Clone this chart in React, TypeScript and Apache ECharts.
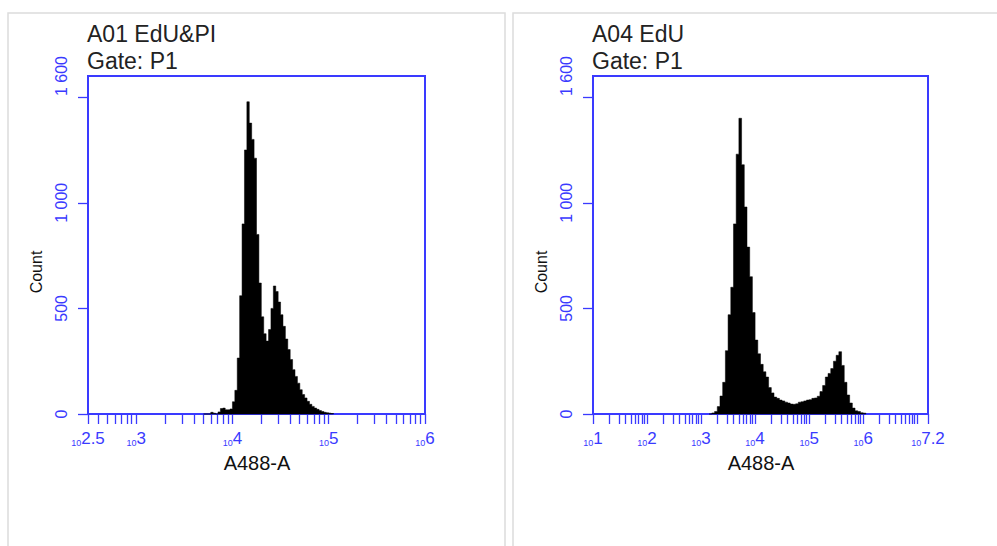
import React, { useEffect, useRef } from 'react';
import * as echarts from 'echarts';

// ---------- data ----------
// Panel 1: A01 EdU&PI  (bin left edges in log10(A488-A), counts)
const p1BinLog = [
  3.700, 3.725, 3.750, 3.775, 3.800, 3.825, 3.850, 3.875, 3.900, 3.925,
  3.950, 3.975, 4.000, 4.025, 4.050, 4.075, 4.100, 4.125, 4.150, 4.175,
  4.200, 4.225, 4.250, 4.275, 4.300, 4.325, 4.350, 4.375, 4.400, 4.425,
  4.450, 4.475, 4.500, 4.525, 4.550, 4.575, 4.600, 4.625, 4.650, 4.675,
  4.700, 4.725, 4.750, 4.775, 4.800, 4.825, 4.850, 4.875, 4.900, 4.925,
  4.950, 4.975, 5.000, 5.025, 5.050,
];
const p1Counts = [
  0, 0, 0, 8, 4, 0, 10, 26, 28, 20,
  20, 24, 58, 112, 265, 560, 900, 1250, 1478, 1377,
  1300, 1211, 850, 620, 460, 380, 345, 400, 500, 606,
  580, 530, 470, 415, 355, 305, 258, 210, 178, 146,
  115, 92, 76, 60, 46, 36, 28, 22, 16, 12,
  8, 6, 4, 2, 0,
];

// Panel 2: A04 EdU
const p2BinLog = [
  3.15, 3.20, 3.25, 3.30, 3.35, 3.40, 3.45, 3.50, 3.55, 3.60,
  3.65, 3.70, 3.75, 3.80, 3.85, 3.90, 3.95, 4.00, 4.05, 4.10,
  4.15, 4.20, 4.25, 4.30, 4.35, 4.40, 4.45, 4.50, 4.55, 4.60,
  4.65, 4.70, 4.75, 4.80, 4.85, 4.90, 4.95, 5.00, 5.05, 5.10,
  5.15, 5.20, 5.25, 5.30, 5.35, 5.40, 5.45, 5.50, 5.55, 5.60,
  5.65, 5.70, 5.75, 5.80, 5.85, 5.90, 5.95, 6.00, 6.05,
];
const p2Counts = [
  0, 5, 12, 35, 85, 150, 300, 470, 600, 900,
  1230, 1400, 1180, 980, 790, 650, 480, 350, 285, 235,
  200, 175, 125, 100, 80, 74, 66, 62, 56, 52,
  47, 46, 48, 56, 58, 62, 66, 68, 74, 76,
  84, 106, 135, 175, 192, 215, 250, 278, 295, 230,
  150, 90, 52, 28, 15, 12, 6, 4, 0,
];

// axis ranges / labels (log10 exponents)
const p1XRange = [2.5, 6];
const p2XRange = [1, 7.2];
const p1XLabels = [2.5, 3, 4, 5, 6];
const p2XLabels = [1, 2, 3, 4, 5, 6, 7.2];
const yTicks = [0, 500, 1000, 1500];
const yLabels = [0, 500, 1000, 1600];
const yMax = 1600;

const titles1 = ['A01 EdU&PI', 'Gate: P1'];
const titles2 = ['A04 EdU', 'Gate: P1'];
const xName = 'A488-A';
const yName = 'Count';

// ---------- styles ----------
const BLUE = '#3a3aff';
const FONT = '"Liberation Sans", Arial, sans-serif';

function logTicks(minE: number, maxE: number): number[] {
  const out: number[] = [minE];
  for (let k = Math.floor(minE); k <= Math.ceil(maxE); k++) {
    for (let m = 1; m <= 9; m++) {
      const e = k + Math.log10(m);
      if (e > minE + 1e-9 && e < maxE - 1e-9) out.push(e);
    }
  }
  out.push(maxE);
  return out;
}

const fmtY = (v: number) =>
  v >= 1000 ? `${Math.floor(v / 1000)} ${String(v % 1000).padStart(3, '0')}` : String(v);

function makeGrid(left: number, width: number) {
  return {
    left, top: 76, width, height: 338,
    show: true, borderColor: BLUE, borderWidth: 2, backgroundColor: 'transparent',
  };
}

function makeX(idx: number, range: number[], labels: number[]) {
  return {
    type: 'value', gridIndex: idx, min: range[0], max: range[1],
    splitLine: { show: false },
    axisLine: { show: true, onZero: false, lineStyle: { color: BLUE, width: 2 } },
    axisTick: { show: true, inside: false, length: 10, customValues: logTicks(range[0], range[1]),
      lineStyle: { color: BLUE, width: 1.3 } },
    axisLabel: {
      show: true, customValues: labels, margin: 13,
      formatter: (v: number) => `{a|10}{b|${Math.round(v * 10) / 10}}`,
      rich: {
        a: { fontSize: 9, fontFamily: FONT, color: BLUE, lineHeight: 10, verticalAlign: 'bottom' },
        b: { fontSize: 17, fontFamily: FONT, color: BLUE, lineHeight: 20, verticalAlign: 'bottom' },
      },
    },
  };
}

function makeY(idx: number) {
  return {
    type: 'value', gridIndex: idx, min: 0, max: yMax,
    splitLine: { show: false },
    axisLine: { show: true, lineStyle: { color: BLUE, width: 2 } },
    axisTick: { show: true, inside: false, length: 10, customValues: yTicks,
      lineStyle: { color: BLUE, width: 1.3 } },
    axisLabel: {
      show: true, customValues: yLabels, rotate: 90, margin: 19,
      formatter: fmtY, color: BLUE, fontSize: 16, fontFamily: FONT,
    },
  };
}

// one filled polygon per panel, built from the bins through the axis scales
function histSeries(idx: number, xs: number[], ys: number[]) {
  const data: number[][] = xs.map((x, i) => [x, ys[i]]);
  return {
    type: 'custom', xAxisIndex: idx, yAxisIndex: idx,
    encode: { x: 0, y: 1 },
    data,
    renderItem: (p: any, api: any) => {
      if (p.dataIndex !== 0) return null;
      const pts: number[][] = [];
      pts.push(api.coord([xs[0], 0]));
      for (let i = 0; i < xs.length - 1; i++) {
        const a = api.coord([xs[i], ys[i]]);
        const b = api.coord([xs[i + 1], ys[i]]);
        pts.push(a, b);
      }
      pts.push(api.coord([xs[xs.length - 1], 0]));
      return {
        type: 'polygon',
        shape: { points: pts },
        style: { fill: '#000', stroke: '#000', lineWidth: 0.5 },
      };
    },
  };
}

function textEl(x: number, y: number, text: string, size: number, extra: any = {}) {
  return {
    type: 'text', x, y, rotation: extra.rotation || 0,
    style: { text, fontSize: size, fontFamily: FONT, fill: extra.fill || '#222',
      align: extra.align || 'left', verticalAlign: 'middle' },
  };
}

export default function App() {
  const ref = useRef<HTMLDivElement>(null);
  useEffect(() => {
    if (!ref.current) return;
    const chart = echarts.init(ref.current, null, { renderer: 'svg' });
    chart.setOption({
      animation: false,
      backgroundColor: '#fff',
      grid: [makeGrid(88, 337), makeGrid(593, 335)],
      xAxis: [makeX(0, p1XRange, p1XLabels), makeX(1, p2XRange, p2XLabels)],
      yAxis: [makeY(0), makeY(1)],
      series: [histSeries(0, p1BinLog, p1Counts), histSeries(1, p2BinLog, p2Counts)],
      graphic: [
        { type: 'rect', shape: { x: 8, y: 13, width: 497, height: 545 },
          style: { fill: 'none', stroke: '#dcdcdc', lineWidth: 1.5 } },
        { type: 'rect', shape: { x: 513, y: 13, width: 495, height: 545 },
          style: { fill: 'none', stroke: '#dcdcdc', lineWidth: 1.5 } },
        textEl(87, 34, titles1[0], 23),
        textEl(87, 61, titles1[1], 23),
        textEl(592, 34, titles2[0], 23),
        textEl(592, 61, titles2[1], 23),
        textEl(36, 272, yName, 16, { rotation: Math.PI / 2, align: 'center', fill: '#111' }),
        textEl(541, 272, yName, 16, { rotation: Math.PI / 2, align: 'center', fill: '#111' }),
        textEl(257, 463, xName, 20, { align: 'center', fill: '#111' }),
        textEl(761, 463, xName, 20, { align: 'center', fill: '#111' }),
      ],
    });
    return () => chart.dispose();
  }, []);
  return (
    <div ref={ref} style={{ position: 'fixed', left: 0, top: 0, width: 997, height: 546 }} />
  );
}
